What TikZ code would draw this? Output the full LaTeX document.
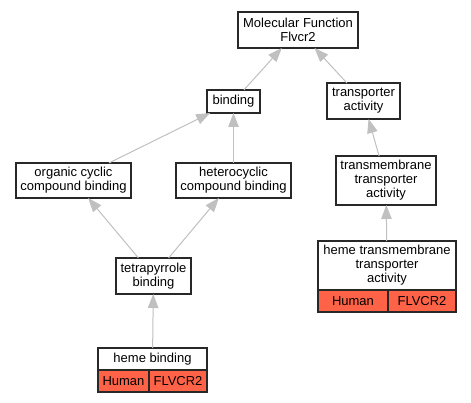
\documentclass[tikz,border=0pt]{standalone}
\usepackage{fontspec}
\setmainfont{Liberation Sans}
\usetikzlibrary{arrows.meta}
\definecolor{edgegray}{RGB}{192,192,192}
\definecolor{cellred}{RGB}{255,99,71}
\definecolor{boxline}{RGB}{40,40,40}
\begin{document}
\begin{tikzpicture}[x=1pt,y=-1pt,
  every node/.style={font=\fontsize{13}{14}\selectfont, inner sep=0pt, outer sep=0pt, align=center},
  gobox/.style={draw=boxline, line width=1.3pt, fill=white},
  cell/.style={draw=boxline, line width=1.3pt, fill=cellred},
  edge/.style={draw=edgegray, line width=1pt, -{Triangle[length=14pt,width=10.5pt]}}
]
\useasboundingbox (0,0) rectangle (471,403);
\fill[white] (0,0) rectangle (471,403);

\node[gobox, minimum width=120pt, minimum height=36pt] (mf) at (298,30) {Molecular Function\\Flvcr2};
\node[gobox, minimum width=53pt, minimum height=23pt] (binding) at (233.5,101.5) {binding};
\node[gobox, minimum width=73pt, minimum height=36pt] (transp) at (363.5,101) {transporter\\activity};
\node[gobox, minimum width=115pt, minimum height=35pt] (organic) at (73.5,180.5) {organic cyclic\\compound binding};
\node[gobox, minimum width=115pt, minimum height=35pt] (hetero) at (233.5,180.5) {heterocyclic\\compound binding};
\node[gobox, minimum width=100pt, minimum height=49pt] (tmta) at (386,180.5) {transmembrane\\transporter\\activity};
\node[gobox, minimum width=75pt, minimum height=36pt] (tetra) at (153.5,276) {tetrapyrrole\\binding};

\node[gobox, minimum width=109pt, minimum height=22pt] (heme) at (152.5,359) {heme binding};
\node[cell, minimum width=51pt, minimum height=22pt] (hemeh) at (123.5,381) {Human};
\node[cell, minimum width=58pt, minimum height=22pt] (hemef) at (178,381) {FLVCR2};

\node[gobox, minimum width=138pt, minimum height=49pt] (htta) at (387,265.5) {heme transmembrane\\transporter\\activity};
\node[cell, minimum width=70pt, minimum height=22pt] (httah) at (353,301) {Human};
\node[cell, minimum width=68pt, minimum height=22pt] (httaf) at (422,301) {FLVCR2};

\draw[edge] (binding) -- (mf);
\draw[edge] (transp) -- (mf);
\draw[edge] (organic) -- (binding);
\draw[edge] (hetero) -- (binding);
\draw[edge] (tetra) -- (organic);
\draw[edge] (tetra) -- (hetero);
\draw[edge] (heme) -- (tetra);
\draw[edge] (tmta) -- (transp);
\draw[edge] (htta) -- (tmta);
\end{tikzpicture}
\end{document}
